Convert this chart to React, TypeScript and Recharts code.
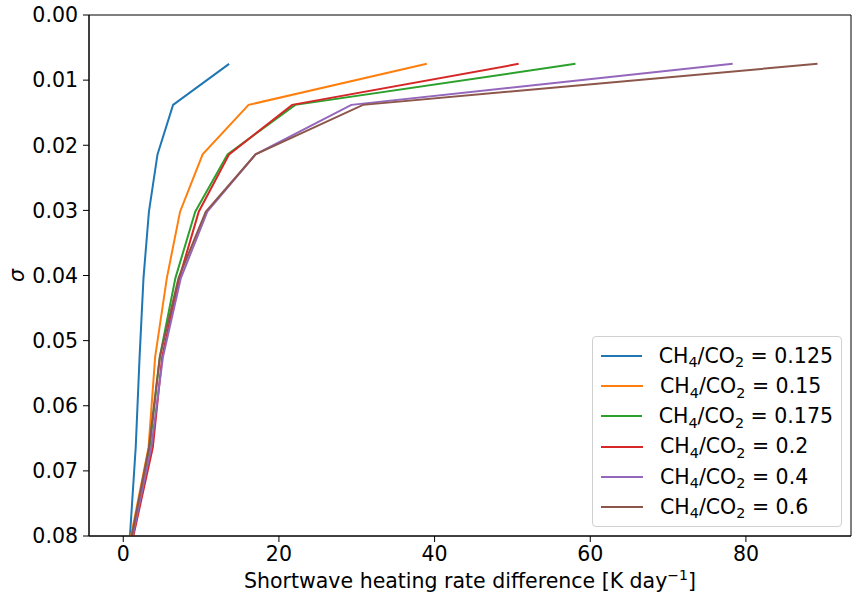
import React from "react";
import {
  LineChart,
  Line,
  XAxis,
  YAxis,
  Legend,
  ReferenceArea,
} from "recharts";

// sigma levels (top of atmosphere down), last one sits just below the axis and is clipped
const sigmaLevels = [0.0075, 0.0138, 0.0214, 0.0302, 0.0404, 0.0525, 0.0664, 0.0824];

// shortwave heating rate difference [K/day] per CH4/CO2 ratio
const r0125 = [13.6, 6.4, 4.4, 3.3, 2.6, 2.1, 1.6, 0.73];
const r015 = [39.0, 16.1, 10.2, 7.3, 5.6, 4.1, 3.25, 0.6];
const r0175 = [58.1, 22.1, 13.4, 9.25, 6.7, 4.7, 3.4, 0.7];
const r02 = [50.8, 21.7, 13.6, 9.7, 7.2, 5.0, 3.8, 0.86];
const r04 = [78.3, 29.3, 17.0, 10.8, 7.4, 5.1, 3.6, 0.78];
const r06 = [89.2, 30.8, 17.0, 10.6, 7.1, 4.7, 3.3, 0.71];

const xTicks = [0, 20, 40, 60, 80];
const yTicks = [0, 0.01, 0.02, 0.03, 0.04, 0.05, 0.06, 0.07, 0.08];

const series = [
  { key: "r0125", label: "0.125", values: r0125, color: "#1f77b4" },
  { key: "r015", label: "0.15", values: r015, color: "#ff7f0e" },
  { key: "r0175", label: "0.175", values: r0175, color: "#2ca02c" },
  { key: "r02", label: "0.2", values: r02, color: "#d62728" },
  { key: "r04", label: "0.4", values: r04, color: "#9467bd" },
  { key: "r06", label: "0.6", values: r06, color: "#8c564b" },
];

const data = sigmaLevels.map((sigma, i) => {
  const row: Record<string, number> = { sigma };
  series.forEach((s) => {
    row[s.key] = s.values[i];
  });
  return row;
});

const FONT = "'DejaVu Sans', sans-serif";
const FS = 20.5;

function Sub({ children }: { children: React.ReactNode }) {
  return (
    <span style={{ fontSize: "0.7em", position: "relative", top: "0.32em" }}>
      {children}
    </span>
  );
}

function LegendBox() {
  return (
    <div
      style={{
        border: "1px solid #d0d0d0",
        borderRadius: 4,
        background: "rgba(255,255,255,0.8)",
        padding: "4px 8px 4px 8px",
        fontFamily: FONT,
        fontSize: FS,
        color: "#000",
        width: 232,
      }}
    >
      {series.map((s) => (
        <div
          key={s.key}
          style={{ display: "flex", alignItems: "center", height: 30.2 }}
        >
          <div
            style={{
              width: 42,
              height: 2,
              background: s.color,
              marginRight: 17,
            }}
          />
          <span style={{ whiteSpace: "nowrap", lineHeight: 1 }}>
            CH<Sub>4</Sub>/CO<Sub>2</Sub> = {s.label}
          </span>
        </div>
      ))}
    </div>
  );
}

function XLabel(props: any) {
  const vb = props.viewBox;
  const cx = vb.x + vb.width / 2;
  return (
    <text
      x={cx}
      y={588}
      textAnchor="middle"
      fontFamily={FONT}
      fontSize={FS}
      fill="#000"
    >
      Shortwave heating rate difference [K day
      <tspan dy={-8} fontSize={14}>
        −1
      </tspan>
      <tspan dy={8}>]</tspan>
    </text>
  );
}

function YLabel(props: any) {
  const vb = props.viewBox;
  const cy = vb.y + vb.height / 2;
  return (
    <text
      x={24}
      y={cy}
      textAnchor="middle"
      transform={`rotate(-90, 24, ${cy})`}
      fontFamily={FONT}
      fontSize={FS}
      fontStyle="italic"
      fill="#000"
    >
      σ
    </text>
  );
}

export default function App() {
  return (
    <div style={{ position: "absolute", left: 0, top: 0, background: "#fff" }}>
      <LineChart
        width={852}
        height={597}
        data={data}
        layout="vertical"
        margin={{ top: 15, right: 1, bottom: 0, left: 0 }}
      >
        <XAxis
          type="number"
          domain={[-4.4, 93.5]}
          ticks={xTicks}
          allowDataOverflow
          height={61}
          tickSize={6}
          tickMargin={4}
          stroke="#000"
          tick={{ fill: "#000", fontSize: FS, fontFamily: FONT }}
          label={<XLabel />}
        />
        <YAxis
          type="number"
          dataKey="sigma"
          domain={[0, 0.08]}
          allowDataOverflow
          ticks={yTicks}
          tickFormatter={(v: number) => v.toFixed(2)}
          width={89}
          tickSize={6}
          tickMargin={5}
          stroke="#000"
          tick={{ fill: "#000", fontSize: FS, fontFamily: FONT }}
          label={<YLabel />}
        />
        <ReferenceArea
          x1={-4.4}
          x2={93.5}
          y1={0}
          y2={0.08}
          fill="none"
          stroke="#000"
          strokeWidth={1}
          ifOverflow="visible"
        />
        {series.map((s) => (
          <Line
            key={s.key}
            dataKey={s.key}
            stroke={s.color}
            strokeWidth={2}
            dot={false}
            activeDot={false}
            type="linear"
            isAnimationActive={false}
          />
        ))}
        <Legend
          layout="vertical"
          align="center"
          verticalAlign="middle"
          wrapperStyle={{ left: 592, top: 336, width: "auto" }}
          content={<LegendBox />}
        />
      </LineChart>
    </div>
  );
}
